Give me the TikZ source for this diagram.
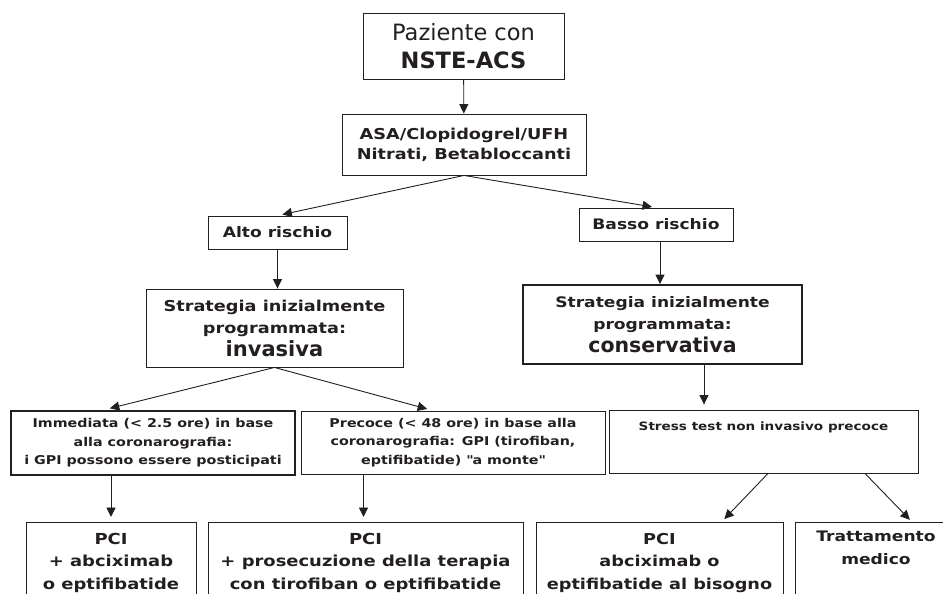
\documentclass[tikz,border=0pt]{standalone}
\usepackage{fontspec}
\setmainfont{DejaVu Sans}[BoldFeatures={FakeStretch=1.18}]
\newfontfamily\widefam{DejaVu Sans}
\usetikzlibrary{arrows.meta,positioning}
\definecolor{ink}{RGB}{35,31,32}
\tikzset{
  box/.style={draw=ink, line width=0.9pt, inner sep=0pt, align=center, text=ink},
  thickbox/.style={box, line width=1.9pt},
  btext/.style={inner sep=0pt, align=center, text=ink, font=\bfseries\fontsize{15.2}{22.5}\selectfont},
  arr/.style={draw=ink, line width=0.9pt, -{Triangle[length=9.5pt,width=9pt]}}
}
\begin{document}
\begin{tikzpicture}[x=1pt,y=-1pt]
  \useasboundingbox (0,0) rectangle (943,594);
  \clip (0,0) rectangle (943,594);

  \node[box, minimum width=201, minimum height=66, font=\widefam\fontsize{22.5}{28}\selectfont] (paz) at (463.5,46) {Paziente con\\\textbf{NSTE-ACS}};
  \node[box, minimum width=244, minimum height=61, font=\bfseries\fontsize{15}{20}\selectfont] (asa) at (464,144.5) {ASA/Clopidogrel/UFH\\Nitrati, Betabloccanti};

  \node[box, minimum width=139, minimum height=33, font=\bfseries\fontsize{14.5}{20}\selectfont] (alto) at (277.5,232.5) {Alto rischio};
  \node[box, minimum width=154, minimum height=33, font=\bfseries\fontsize{14.5}{20}\selectfont] (basso) at (656,224.5) {Basso rischio};

  \node[box, minimum width=257, minimum height=78, font=\bfseries\fontsize{15}{22}\selectfont] (inv) at (274.5,328) {Strategia inizialmente\\programmata:\\[1pt]{\widefam\bfseries\fontsize{21}{24}\selectfont invasiva}};
  \node[thickbox, minimum width=279, minimum height=79, font=\bfseries\fontsize{14.5}{22}\selectfont] (cons) at (662.5,324.5) {Strategia inizialmente\\programmata:\\[1pt]{\widefam\bfseries\fontsize{20.5}{24}\selectfont conservativa}};

  \node[thickbox, minimum width=284, minimum height=64, font=\bfseries\fontsize{12.1}{18.5}\selectfont] (imm) at (153,443) {Immediata (< 2.5 ore) in base\\alla coronarografia:\\i GPI possono essere posticipati};
  \node[box, minimum width=304, minimum height=63, font=\bfseries\fontsize{12.1}{18.5}\selectfont] (prec) at (453,442.5) {Precoce (< 48 ore) in base alla\\coronarografia: GPI (tirofiban,\\eptifibatide) \textquotedbl a monte\textquotedbl};
  \node[box, minimum width=309, minimum height=63] (stress) at (763.5,441.5) {};
  \node[inner sep=0pt, text=ink, font=\bfseries\fontsize{11.5}{18.5}\selectfont, below=12pt of stress.north] (stresst) {Stress test non invasivo precoce};

  % bottom row, cut by the lower edge
  \node[box, minimum width=170, minimum height=100, anchor=north] (pci1) at (111,522) {};
  \node[box, minimum width=315, minimum height=100, anchor=north] (pci2) at (365.5,522) {};
  \node[box, minimum width=247, minimum height=100, anchor=north] (pci3) at (659.5,522) {};
  \node[box, minimum width=162, minimum height=100, anchor=north] (tratt) at (876,522) {};
  \node[btext, below=11pt of pci1.north] (pci1t) {PCI\\+ abciximab\\o eptifibatide};
  \node[btext, below=11pt of pci2.north] (pci2t) {PCI\\+ prosecuzione della terapia\\con tirofiban o eptifibatide};
  \node[btext, font=\bfseries\fontsize{15}{22.5}\selectfont, below=11pt of pci3.north] (pci3t) {PCI\\abciximab o\\eptifibatide al bisogno};
  \node[btext, font=\bfseries\fontsize{14.5}{22.5}\selectfont, below=9pt of tratt.north] (trattt) {Trattamento\\medico};

  \draw[arr] (paz) -- (asa);
  \draw[arr, shorten >=5pt] (asa.south) -- (alto.north);
  \draw[arr, shorten >=4pt] (asa.south) -- (basso.north);
  \draw[arr] (alto) -- (alto |- inv.north);
  \draw[arr] ([xshift=4]basso.south) -- ([xshift=4]basso |- cons.north);
  \draw[arr, shorten >=7pt] (inv.south) -- ([xshift=-50]imm.north);
  \draw[arr, shorten >=6pt] (inv.south) -- ([xshift=-20]prec.north);
  \draw[arr, shorten >=5pt] ([xshift=41.5]cons.south) -- ([xshift=41.5]cons.south |- stress.north);
  \draw[arr, shorten >=5pt] (pci1 |- imm.south) -- (pci1.north);
  \draw[arr, shorten >=5pt] ([xshift=-2]pci2 |- prec.south) -- ([xshift=-2]pci2.north);
  \draw[arr, shorten >=4pt] ([xshift=4.5]stress.south) -- ([xshift=62]pci3.north);
  \draw[arr, shorten >=3pt] ([xshift=101.5]stress.south) -- ([xshift=36]tratt.north);
\end{tikzpicture}
\end{document}
